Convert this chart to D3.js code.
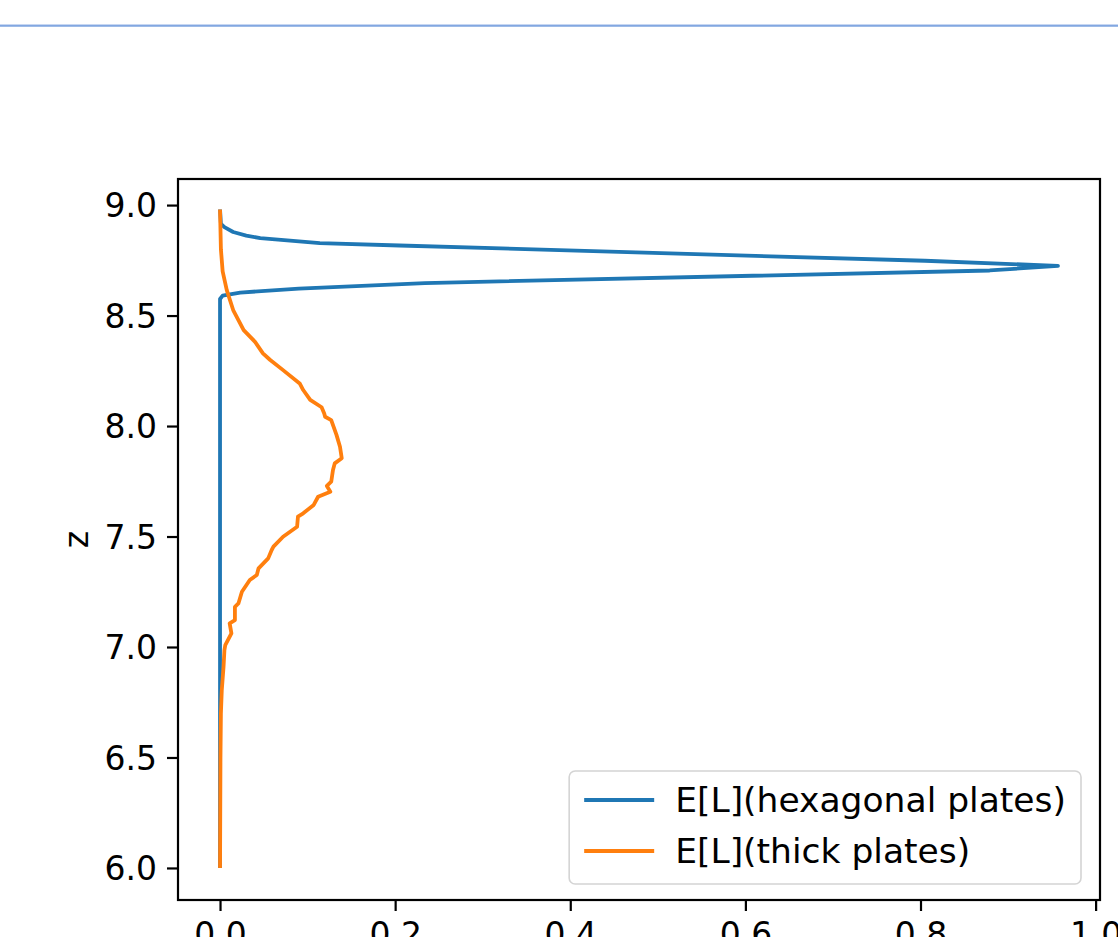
<!DOCTYPE html>
<html>
<head>
<meta charset="utf-8">
<script src="https://cdn.jsdelivr.net/npm/d3@7"></script>
<style>
  html, body { margin: 0; padding: 0; background: #ffffff; }
  svg { display: block; }
  text { font-family: "DejaVu Sans", sans-serif; fill: #000; }
</style>
</head>
<body>
<div id="chart"></div>
<script>
// ---- data ----
const seriesNames = ["E[L](hexagonal plates)", "E[L](thick plates)"];
const hexZ = [6.0, 8.575, 8.59, 8.604, 8.622, 8.647, 8.704, 8.725, 8.748, 8.817, 8.828, 8.85, 8.862, 8.878, 8.9, 8.915, 8.98];
const hexV = [0.0, 0.0, 0.003, 0.023, 0.09, 0.234, 0.879, 0.957, 0.805, 0.205, 0.114, 0.046, 0.03, 0.015, 0.005, 0.001, 0.0];
const thickZ = [6.0, 6.5, 6.7, 6.805, 6.91, 6.985, 7.009, 7.062, 7.107, 7.122, 7.182, 7.197, 7.25, 7.303, 7.326, 7.356, 7.401, 7.439, 7.454, 7.499, 7.544, 7.59, 7.605, 7.643, 7.68, 7.703, 7.729, 7.748, 7.801, 7.831, 7.854, 7.906, 7.96, 8.027, 8.042, 8.057, 8.085, 8.118, 8.163, 8.193, 8.253, 8.3, 8.329, 8.381, 8.434, 8.525, 8.615, 8.7, 8.8, 8.98];
const thickV = [0.0, 0.0005, 0.001, 0.002, 0.004, 0.005, 0.006, 0.013, 0.011, 0.017, 0.017, 0.021, 0.025, 0.034, 0.042, 0.044, 0.055, 0.059, 0.061, 0.072, 0.088, 0.089, 0.095, 0.107, 0.112, 0.126, 0.122, 0.127, 0.129, 0.131, 0.139, 0.137, 0.133, 0.127, 0.12, 0.119, 0.116, 0.103, 0.095, 0.091, 0.072, 0.057, 0.049, 0.04, 0.027, 0.015, 0.0077, 0.003, 0.001, 0.0];
const xTicks = [0.0, 0.2, 0.4, 0.6, 0.8, 1.0];
const yTicks = [6.0, 6.5, 7.0, 7.5, 8.0, 8.5, 9.0];
const colors = ["#1f77b4", "#ff7f0e"];

// ---- layout ----
const W = 1118, H = 937;
const pLeft = 178, pRight = 1100, pTop = 179, pBottom = 900;
const FS = 33, LFS = 34.5;

const svg = d3.select("#chart").append("svg").attr("width", W).attr("height", H);
svg.append("rect").attr("width", W).attr("height", H).attr("fill", "#fff");

// top decorative line (screenshot artifact)
svg.append("rect").attr("x", 0).attr("y", 24.5).attr("width", W).attr("height", 1).attr("fill", "#8fb0e6");
svg.append("rect").attr("x", 0).attr("y", 25.5).attr("width", W).attr("height", 1).attr("fill", "#3f78d0");

const x = d3.scaleLinear().domain([-0.048, 1.005]).range([pLeft, pRight]);
const y = d3.scaleLinear().domain([5.855, 9.118]).range([pBottom, pTop]);

// clip
svg.append("clipPath").attr("id", "clip").append("rect")
  .attr("x", pLeft).attr("y", pTop).attr("width", pRight - pLeft).attr("height", pBottom - pTop);

const line = d3.line().x(d => x(d[1])).y(d => y(d[0]));
const series = [d3.zip(hexZ, hexV), d3.zip(thickZ, thickV)];
series.forEach((s, i) => {
  svg.append("path").datum(s).attr("d", line)
    .attr("fill", "none").attr("stroke", colors[i]).attr("stroke-width", 3.8)
    .attr("stroke-linejoin", "round").attr("stroke-linecap", "butt")
    .attr("clip-path", "url(#clip)");
});

// axes
const xAxis = d3.axisBottom(x).tickValues(xTicks).tickFormat(d3.format(".1f")).tickSize(11).tickPadding(10);
const yAxis = d3.axisLeft(y).tickValues(yTicks).tickFormat(d3.format(".1f")).tickSize(11).tickPadding(10);

const gx = svg.append("g").attr("transform", `translate(0,${pBottom})`).call(xAxis);
const gy = svg.append("g").attr("transform", `translate(${pLeft},0)`).call(yAxis);
[gx, gy].forEach(g => {
  g.select(".domain").remove();
  g.selectAll(".tick line").attr("stroke", "#000").attr("stroke-width", 2.2);
  g.selectAll(".tick text").attr("font-size", FS).attr("font-family", "DejaVu Sans").attr("fill", "#000");
});
gy.selectAll(".tick text").attr("dy", "0.35em");
gx.selectAll(".tick text").attr("dy", "0.76em");

// frame
svg.append("rect").attr("x", pLeft).attr("y", pTop).attr("width", pRight - pLeft).attr("height", pBottom - pTop)
  .attr("fill", "none").attr("stroke", "#000").attr("stroke-width", 2.2);

// y label
svg.append("text").attr("transform", `translate(88,${(pTop + pBottom) / 2}) rotate(-90)`)
  .attr("text-anchor", "middle").attr("font-size", FS).text("z");

// legend
const lg = svg.append("g");
const lgBox = lg.append("rect");
const rowGap = 51;
const texts = seriesNames.map((n, i) => lg.append("text").attr("font-size", LFS).attr("dy", "0.35em").text(n));
const maxW = d3.max(texts, t => t.node().getComputedTextLength());
const pad = 15, handleLen = 70, handleGap = 21;
const boxW = pad + handleLen + handleGap + maxW + pad;
const boxH = 113;
const bx = pRight - 19 - boxW, by = pBottom - 16 - boxH;
lgBox.attr("x", bx).attr("y", by).attr("width", boxW).attr("height", boxH).attr("rx", 6)
  .attr("fill", "#fff").attr("fill-opacity", 0.8).attr("stroke", "#d4d4d4").attr("stroke-width", 1.6);
seriesNames.forEach((n, i) => {
  const cy = by + 29 + i * rowGap;
  lg.append("line").attr("x1", bx + pad).attr("x2", bx + pad + handleLen).attr("y1", cy).attr("y2", cy)
    .attr("stroke", colors[i]).attr("stroke-width", 3.8);
  texts[i].attr("x", bx + pad + handleLen + handleGap).attr("y", cy);
});
</script>
</body>
</html>
